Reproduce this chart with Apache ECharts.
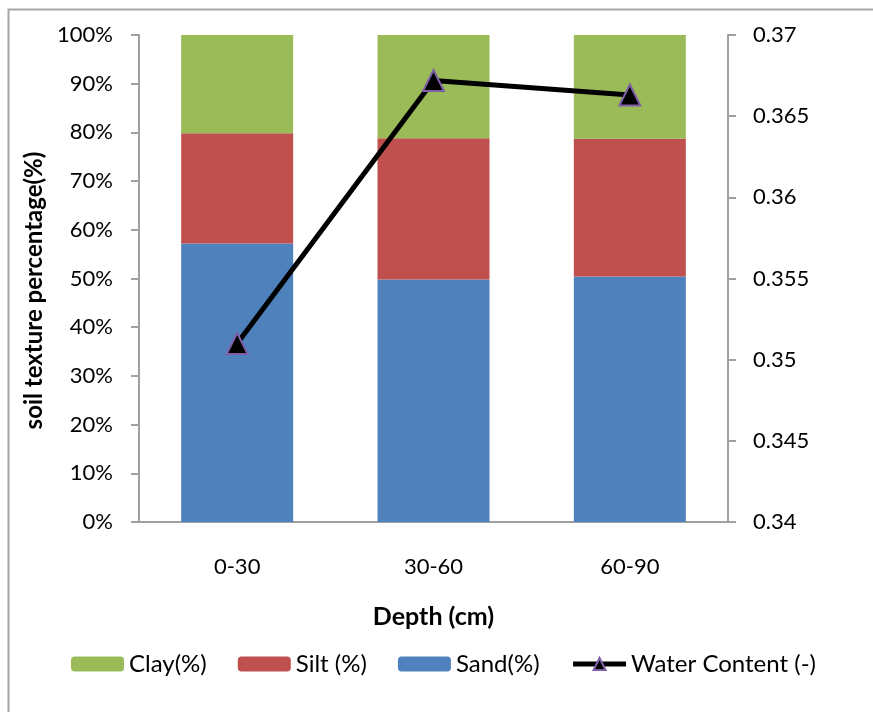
<!DOCTYPE html>
<html>
<head>
<meta charset="utf-8">
<script src="https://cdn.jsdelivr.net/npm/echarts@6/dist/echarts.min.js"></script>
<style>
  html, body { margin: 0; padding: 0; background: #fff; }
  #chart { width: 873px; height: 712px; }
</style>
</head>
<body>
<div id="chart"></div>
<script>
// Soil texture by depth (stacked %) with volumetric water content on the right axis
const depths = ['0-30', '30-60', '60-90'];
const sandPct = [57.2, 49.8, 50.4];
const siltPct = [22.6, 29.0, 28.3];
const clayPct = [20.2, 21.2, 21.3];
const waterContent = [0.3510, 0.3672, 0.3663];
const leftTicks = { min: 0, max: 100, step: 10 };
const rightTicks = { min: 0.34, max: 0.37, step: 0.005 };

const FONT = 'Lato';
const AXIS_GRAY = '#A0A0A0';

const chart = echarts.init(document.getElementById('chart'), null, { renderer: 'canvas' });

const axisLine = { show: true, lineStyle: { color: AXIS_GRAY, width: 2 } };
const labelStyle = { color: '#000', fontFamily: FONT, fontSize: 22 };

chart.setOption({
  animation: false,
  backgroundColor: '#fff',
  textStyle: { fontFamily: FONT },
  graphic: [{
    type: 'rect',
    shape: { x: 8.5, y: 9.5, width: 1000, height: 1000 },
    style: { fill: 'none', stroke: '#A6A6A6', lineWidth: 2 },
    silent: true
  }],
  grid: { left: 139, right: 145, top: 35, bottom: 190, containLabel: false },
  legend: {
    data: [
      'Clay(%)', 'Silt (%)', 'Sand(%)',
      { name: 'Water Content (-)', lineStyle: { width: 5, color: '#000' } }
    ],
    left: 66,
    top: 647,
    itemWidth: 53,
    itemHeight: 15,
    itemGap: 31,
    textStyle: { color: '#000', fontFamily: FONT, fontSize: 24 }
  },
  xAxis: {
    type: 'category',
    data: depths,
    name: 'Depth (cm)',
    nameLocation: 'middle',
    nameGap: 82,
    nameTextStyle: { color: '#000', fontFamily: FONT, fontSize: 25, fontWeight: 'bold' },
    axisLine: axisLine,
    axisTick: { show: false },
    axisLabel: Object.assign({ margin: 34 }, labelStyle),
    splitLine: { show: false }
  },
  yAxis: [{
    type: 'value',
    min: leftTicks.min,
    max: leftTicks.max,
    interval: leftTicks.step,
    name: 'soil texture percentage(%)',
    nameLocation: 'middle',
    nameRotate: 90,
    nameGap: 93,
    nameTextStyle: { color: '#000', fontFamily: FONT, fontSize: 24, fontWeight: 'bold', padding: [0, 24, 0, 0] },
    axisLine: axisLine,
    axisTick: { show: true, length: 8, lineStyle: { color: AXIS_GRAY, width: 2 } },
    axisLabel: Object.assign({ margin: 26, formatter: '{value}%' }, labelStyle),
    splitLine: { show: false }
  }, {
    type: 'value',
    position: 'right',
    min: rightTicks.min,
    max: rightTicks.max,
    interval: rightTicks.step,
    axisLine: axisLine,
    axisTick: { show: true, length: 8, lineStyle: { color: AXIS_GRAY, width: 2 } },
    axisLabel: Object.assign({ margin: 25, formatter: v => String(+v.toFixed(3)) }, labelStyle),
    splitLine: { show: false }
  }],
  series: [{
    name: 'Sand(%)',
    type: 'bar',
    stack: 'texture',
    barWidth: 112,
    data: sandPct,
    itemStyle: { color: '#4F81BD' }
  }, {
    name: 'Silt (%)',
    type: 'bar',
    stack: 'texture',
    barWidth: 112,
    data: siltPct,
    itemStyle: { color: '#C0504D' }
  }, {
    name: 'Clay(%)',
    type: 'bar',
    stack: 'texture',
    barWidth: 112,
    data: clayPct,
    itemStyle: { color: '#9BBB59' }
  }, {
    name: 'Water Content (-)',
    type: 'line',
    yAxisIndex: 1,
    data: waterContent,
    symbol: 'triangle',
    symbolSize: 21,
    lineStyle: { color: '#000', width: 5 },
    itemStyle: { color: '#000', borderColor: '#7E5FA8', borderWidth: 2 },
    z: 5
  }]
});
</script>
</body>
</html>
